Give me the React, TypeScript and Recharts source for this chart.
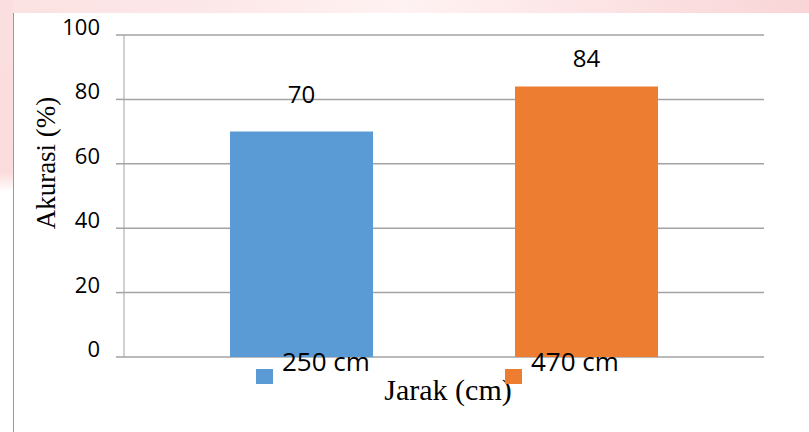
import React from 'react';
import { BarChart, Bar, XAxis, YAxis, CartesianGrid, LabelList, Label } from 'recharts';

const categories: string[] = [''];
const seriesNames: string[] = ['250 cm', '470 cm'];
const series250: number[] = [70];
const series470: number[] = [84];
const seriesColors: string[] = ['#5B9BD5', '#ED7D31'];
const yTicks: number[] = [0, 20, 40, 60, 80, 100];
const yTitle = 'Akurasi (%)';
const xTitle = 'Jarak (cm)';

const data = categories.map((c, i) => ({ name: c, s0: series250[i], s1: series470[i] }));

const GRID = '#a3a3a3';
const SANS = '"Open Sans", "Noto Sans", sans-serif';
const SERIF = '"Liberation Serif", "Times New Roman", serif';

const YTick = (props: any) => {
  const { x, y, payload } = props;
  return (
    <text x={x} y={y - 9} textAnchor="end" dominantBaseline="central" fontFamily={SANS} fontSize={22} fill="#000">
      {payload.value}
    </text>
  );
};

export default function App() {
  return (
    <div style={{ position: 'absolute', left: 0, top: 0, width: 809, height: 432, background: '#fff', overflow: 'hidden' }}>
      {/* scan artifacts: pink border bands and gray frame line */}
      <div style={{ position: 'absolute', left: 0, top: 0, width: 809, height: 13, background: 'linear-gradient(90deg, #fbe1e2 0%, #fde9ea 30%, #fff2f2 50%, #fde6e7 70%, #f9d5d7 100%)' }} />
      <div style={{ position: 'absolute', left: 0, top: 0, width: 13, height: 192, background: 'linear-gradient(180deg, #fbdfe0 0%, #fbdcdd 90%, #ffffff 100%)' }} />
      <div style={{ position: 'absolute', left: 13, top: 13, width: 1, height: 419, background: '#9a9a9a' }} />
      <div style={{ position: 'absolute', left: 0, top: 0 }}>
        <BarChart width={809} height={432} data={data} margin={{ top: 35, right: 45, left: 0, bottom: 0 }} barSize={143} barGap={142}>
          <CartesianGrid vertical={false} stroke={GRID} strokeWidth={1.5} />
          <XAxis dataKey="name" height={75} tick={false} axisLine={false} tickLine={false}>
            <Label
              content={() => (
                <text x={448} y={400} textAnchor="middle" fontFamily={SERIF} fontSize={30} fill="#000">
                  {xTitle}
                </text>
              )}
            />
          </XAxis>
          <YAxis
            width={124}
            domain={[0, 100]}
            ticks={yTicks}
            interval={0}
            tick={<YTick />}
            tickSize={8}
            tickMargin={16}
            tickLine={{ stroke: GRID, strokeWidth: 1.5 }}
            axisLine={{ stroke: GRID, strokeWidth: 1 }}
          >
            <Label
              content={() => (
                <text
                  x={46}
                  y={163}
                  transform="rotate(-90 46 163)"
                  textAnchor="middle"
                  dominantBaseline="central"
                  fontFamily={SERIF}
                  fontSize={27}
                  fill="#000"
                >
                  {yTitle}
                </text>
              )}
            />
          </YAxis>
          <Bar dataKey="s0" name={seriesNames[0]} fill={seriesColors[0]} isAnimationActive={false}>
            <LabelList dataKey="s0" position="top" offset={29} fill="#000" fontSize={24} fontFamily={SANS} />
          </Bar>
          <Bar dataKey="s1" name={seriesNames[1]} fill={seriesColors[1]} isAnimationActive={false}>
            <LabelList dataKey="s1" position="top" offset={20} fill="#000" fontSize={24} fontFamily={SANS} />
          </Bar>
        </BarChart>
      </div>
      {/* legend */}
      <div style={{ position: 'absolute', left: 256, top: 344, display: 'flex' }}>
        {seriesNames.map((n, i) => (
          <div key={n} style={{ position: 'relative', width: 249, height: 45 }}>
            <div style={{ position: 'absolute', left: 0, top: 25, width: 17, height: 15, background: seriesColors[i] }} />
            <div style={{ position: 'absolute', left: 26, top: 0, fontFamily: SANS, fontSize: 26, lineHeight: '35px', color: '#000', whiteSpace: 'nowrap' }}>
              {n}
            </div>
          </div>
        ))}
      </div>
    </div>
  );
}
